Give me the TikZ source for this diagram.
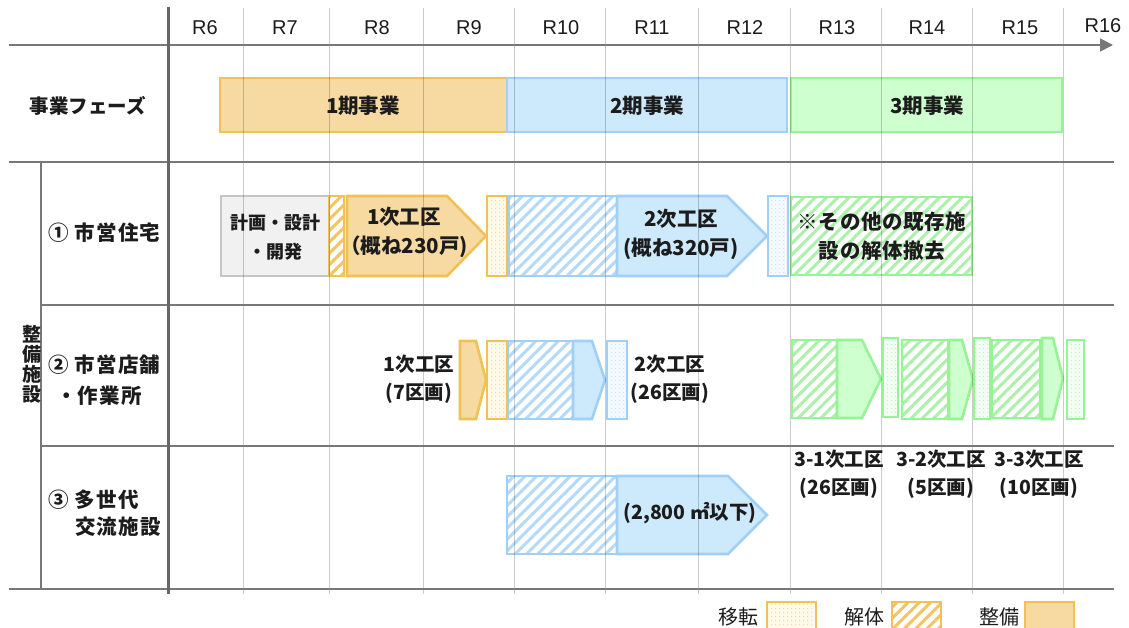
\documentclass[tikz,border=0pt]{standalone}
\usepackage{fontspec}
\setmainfont{Liberation Sans}
\newfontfamily\jp{Noto Sans CJK JP}
\newfontfamily\jpls{Noto Sans CJK JP}[LetterSpace=6]
\newfontfamily\jpbx{Noto Sans CJK JP}[LetterSpace=3]
\usetikzlibrary{arrows.meta,patterns.meta}
\definecolor{orF}{RGB}{246,218,162}
\definecolor{orD}{RGB}{241,192,86}
\definecolor{orL}{RGB}{242,196,100}
\definecolor{orP}{RGB}{255,249,234}
\definecolor{blF}{RGB}{205,233,252}
\definecolor{blD}{RGB}{160,207,248}
\definecolor{blL}{RGB}{180,218,248}
\definecolor{blP}{RGB}{243,249,255}
\definecolor{grF}{RGB}{206,255,206}
\definecolor{grD}{RGB}{150,244,150}
\definecolor{grL}{RGB}{172,240,172}
\definecolor{grP}{RGB}{243,255,243}
\definecolor{gyF}{RGB}{241,241,241}
\definecolor{gyD}{RGB}{198,198,198}
\definecolor{axisc}{RGB}{120,120,120}
\definecolor{txt}{RGB}{28,28,28}
\newcommand{\pentblk}[6]{\draw[#1] (#2,#3) -- (#4,#3) -- (#5,{(#3+#6)/2}) -- (#4,#6) -- (#2,#6) -- cycle;}
\begin{document}
\begin{tikzpicture}[x=1pt,y=-1pt,
  yr/.style={font=\fontsize{20}{24}\selectfont, text=txt, inner sep=0pt},
  side/.style={font=\jpls\bfseries\fontsize{20.5}{24}\selectfont, text=txt, inner sep=0pt},
  btxt/.style={font=\jp\bfseries\fontsize{20.5}{29}\selectfont, text=txt, align=center, inner sep=0pt},
  ntxt/.style={font=\jp\bfseries\fontsize{19.5}{28}\selectfont, text=txt, align=center, inner sep=0pt},
  stxt/.style={font=\jp\bfseries\fontsize{18}{29}\selectfont, text=txt, align=center, inner sep=0pt},
  leg/.style={font=\jp\fontsize{20}{24}\selectfont, text=txt, inner sep=0pt},
  blk/.style={line width=2.6pt, line join=miter},
  hatch/.style={preaction={fill=white}, pattern={Lines[angle=45,distance=8pt,line width=3pt]}},
  dots/.style={pattern={Dots[distance=4pt,radius=0.55pt]}},
  orS/.style={blk, draw=orD, fill=orF},
  orH/.style={blk, draw=orD, hatch, pattern color=orL},
  orDt/.style={blk, draw=orD, preaction={fill=orP}, dots, pattern color=orL},
  blS/.style={blk, draw=blD, fill=blF},
  blH/.style={blk, draw=blD, hatch, pattern color=blL},
  blDt/.style={blk, draw=blD, preaction={fill=blP}, dots, pattern color=blL},
  grS/.style={blk, draw=grD, fill=grF},
  grH/.style={blk, draw=grD, hatch, pattern color=grL},
  grDt/.style={blk, draw=grD, preaction={fill=grP}, dots, pattern color=grL},
  gyS/.style={blk, draw=gyD, fill=gyF},
  gridln/.style={draw=black, draw opacity=0.2, line width=1pt},
  rule/.style={draw=axisc, line width=1.8pt},
]
\useasboundingbox (0,0) rectangle (1129,628);
\clip (0,0) rectangle (1129,628);

% phase bars
\draw[orS] (220,78) rectangle (507,132);
\draw[blS] (507,78) rectangle (787,132);
\draw[grS] (791,78) rectangle (1062,132);

% row 1
\draw[gyS] (221,196) rectangle (329,276);
\draw[orH] (329,196) rectangle (344,276);
\pentblk{orS}{347}{196}{447}{486}{276}
\draw[orDt] (487,196) rectangle (507,276);
\draw[blH] (509,196) rectangle (617,276);
\pentblk{blS}{617}{196}{727}{767}{276}
\draw[blDt] (768,196) rectangle (788,276);
\draw[grH] (791,197) rectangle (972,275);

% row 2
\pentblk{orS}{460}{341}{476}{486}{419}
\draw[orDt] (487,341) rectangle (507,419);
\draw[blH] (508,341) rectangle (573,419);
\pentblk{blS}{573}{341}{592}{605}{419}
\draw[blDt] (607,341) rectangle (627,419);
\draw[grH] (792,340) rectangle (837,418);
\pentblk{grS}{837}{340}{862}{881}{418}
\draw[grDt] (883,338) rectangle (898,417);
\draw[grH] (902,340) rectangle (948,419);
\pentblk{grS}{949}{340}{962}{973}{419}
\draw[grDt] (974,338) rectangle (990,419);
\draw[grH] (992,340) rectangle (1040,418);
\pentblk{grS}{1042}{338}{1053}{1063}{419}
\draw[grDt] (1067,340) rectangle (1084,419);

% row 3
\draw[blH] (507,476) rectangle (617,554);
\pentblk{blS}{617}{476}{728}{767}{554}

% legend boxes
\draw[orDt] (767,602) rectangle (816,640);
\draw[orH] (892,602) rectangle (941,640);
\draw[orS] (1025,602) rectangle (1074,640);

% grid lines
\foreach \x in {243,329,423,514,605,698,790,881,972,1063}
  \draw[gridln] (\x,8) -- (\x,594);

% rules
\draw[rule, -{Triangle[length=13pt,width=13pt]}] (9,45) -- (1113,45);
\draw[rule] (9,162) -- (1114,162);
\draw[rule] (41,305) -- (1114,305);
\draw[rule] (41,446) -- (1114,446);
\draw[rule] (9,589) -- (1114,589);
\draw[rule] (41,162) -- (41,589);
\draw[draw=axisc!85!black, line width=3pt] (168,7) -- (168,594);

% year labels
\foreach \n/\x in {6/205,7/285,8/377,9/469,10/561,11/652,12/745,13/837,14/927,15/1020}
  \node[yr] (yr\n) at (\x,28) {R\n};
\node[yr] (yr16) at (1103,26) {R16};

% side labels
\node[font=\jp\bfseries\fontsize{19.5}{24}\selectfont, text=txt, inner sep=0pt] (phase) at (88,106) {事業フェーズ};
\node[side, anchor=west] (r1) at (48,233) {① 市営住宅};
\node[side, anchor=west] (r2a) at (48,365) {② 市営店舗};
\node[side, anchor=west] (r2b) at (56,396) {・作業所};
\node[side, anchor=west] (r3a) at (48,500) {③ 多世代};
\node[side, anchor=west] (r3b) at (75,527) {交流施設};
\node[font=\jp\bfseries\fontsize{19}{20}\selectfont, text=txt, align=center, inner sep=0pt] (seibi) at (32,364) {整\\備\\施\\設};

% phase texts
\node[btxt] (p1) at (363,106) {1期事業};
\node[btxt] (p2) at (647,106) {2期事業};
\node[btxt] (p3) at (927,106) {3期事業};

% row 1 texts
\node[stxt] (plan) at (275,237) {計画・設計\\・開発};
\node[btxt] (k1) at (404,232) {1次工区\\（概ね230戸)};
\node[btxt] (k2) at (681,234) {2次工区\\(概ね320戸)};
\node[btxt, font=\jpbx\bfseries\fontsize{20.5}{29}\selectfont] (kx) at (882,236) {※その他の既存施\\設の解体撤去};

% row 2 texts
\node[ntxt] (s1) at (419,379) {1次工区\\(7区画)};
\node[ntxt] (s2) at (670,379) {2次工区\\(26区画)};
\node[ntxt] (s31) at (839,474) {3-1次工区\\(26区画)};
\node[ntxt] (s32) at (941,474) {3-2次工区\\(5区画)};
\node[ntxt] (s33) at (1039,474) {3-3次工区\\(10区画)};

% row 3 text
\node[ntxt] (t3) at (690,513) {(2,800 ㎡以下)};

% legend texts
\node[leg] (l1) at (738,617) {移転};
\node[leg] (l2) at (864,617) {解体};
\node[leg] (l3) at (999,617) {整備};
\end{tikzpicture}
\end{document}
